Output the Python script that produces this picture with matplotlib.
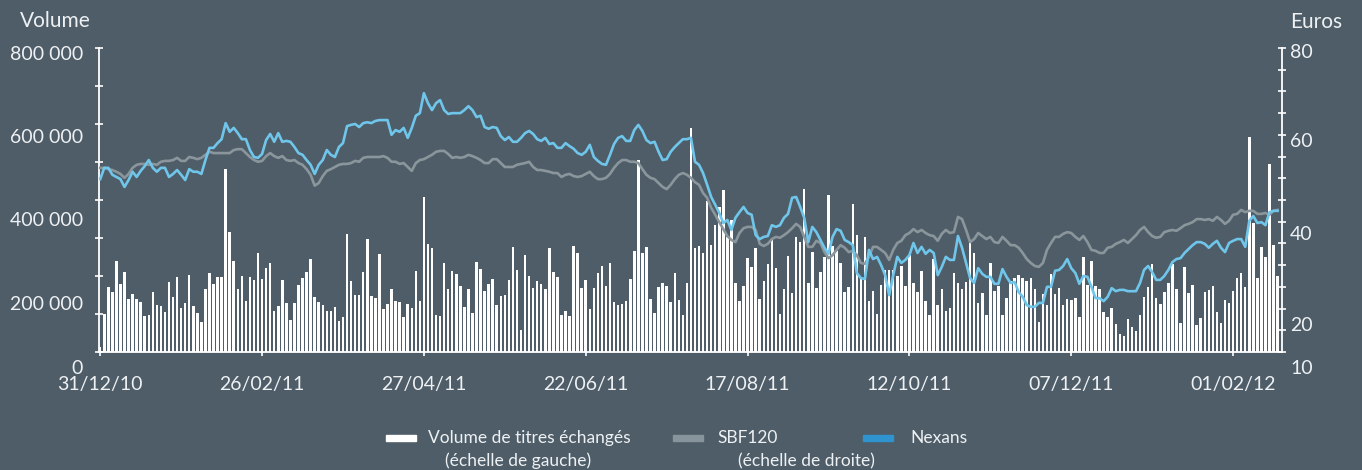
import matplotlib.pyplot as plt
import numpy as np

# volume de titres échangés (milliers), une valeur par séance
volume_k = [
    14, 100, 172, 158, 240, 179, 210, 139, 153, 139,
    132, 95, 97, 158, 124, 121, 105, 184, 145, 197,
    116, 129, 203, 121, 103, 79, 166, 208, 179, 197,
    197, 482, 316, 240, 166, 200, 134, 197, 190, 261,
    192, 221, 234, 108, 121, 190, 129, 84, 129, 176,
    195, 211, 245, 145, 132, 124, 108, 108, 118, 82,
    92, 311, 187, 150, 150, 211, 297, 147, 142, 258,
    113, 126, 166, 134, 132, 92, 126, 116, 213, 134,
    408, 284, 274, 97, 95, 234, 166, 213, 205, 174,
    118, 166, 103, 237, 218, 161, 179, 192, 124, 147,
    150, 190, 276, 216, 58, 255, 200, 168, 187, 179,
    166, 274, 211, 197, 97, 108, 95, 279, 261, 168,
    190, 113, 168, 208, 226, 174, 234, 132, 124, 126,
    134, 192, 266, 505, 261, 276, 139, 103, 171, 182,
    174, 132, 208, 137, 97, 182, 589, 274, 279, 261,
    397, 282, 334, 382, 426, 303, 347, 182, 134, 174,
    247, 224, 274, 139, 187, 232, 297, 221, 100, 166,
    253, 155, 303, 290, 429, 182, 263, 168, 211, 250,
    413, 279, 266, 234, 158, 171, 390, 308, 195, 303,
    134, 161, 100, 176, 216, 216, 216, 200, 226, 174,
    255, 182, 158, 213, 134, 97, 245, 124, 166, 108,
    116, 208, 182, 166, 184, 292, 261, 129, 155, 97,
    234, 161, 174, 97, 142, 187, 195, 203, 195, 187,
    195, 166, 79, 153, 124, 205, 153, 168, 124, 139,
    137, 142, 92, 250, 176, 240, 174, 166, 105, 92,
    116, 74, 47, 42, 87, 66, 55, 97, 145, 171,
    232, 142, 126, 158, 182, 232, 166, 76, 224, 155,
    176, 71, 89, 158, 163, 174, 105, 76, 137, 129,
    161, 195, 208, 171, 566, 340, 195, 276, 250, 495,
    282, 200,
]

# cours Nexans (euros)
nexans = [
    49.8, 52.4, 52.4, 50.8, 50.3, 49.8, 48.0, 49.6, 51.5, 50.3,
    51.7, 52.8, 54.2, 52.4, 51.5, 52.4, 52.4, 50.3, 51.0, 51.9,
    50.8, 49.6, 52.1, 51.5, 51.5, 51.0, 54.2, 57.0, 57.0, 58.1,
    59.0, 62.7, 60.7, 61.6, 60.4, 59.0, 59.0, 56.5, 54.9, 54.7,
    55.6, 58.8, 60.2, 58.4, 60.4, 58.4, 58.6, 58.4, 57.2, 55.8,
    55.4, 54.2, 53.1, 51.0, 53.1, 54.2, 56.5, 55.4, 54.9, 57.2,
    58.1, 62.0, 62.3, 62.5, 61.8, 62.7, 62.9, 62.7, 63.2, 63.4,
    63.4, 63.4, 60.0, 61.1, 60.7, 61.6, 59.3, 61.6, 64.4, 65.0,
    69.6, 67.3, 65.7, 67.3, 68.0, 65.7, 64.8, 65.0, 65.0, 65.0,
    65.7, 66.6, 65.7, 64.1, 64.4, 61.8, 61.4, 61.8, 61.6, 59.7,
    58.8, 59.5, 58.4, 58.4, 59.3, 60.4, 60.9, 60.2, 59.0, 58.6,
    59.3, 57.9, 58.1, 57.0, 57.0, 58.1, 57.4, 56.8, 55.8, 55.4,
    56.1, 57.7, 54.9, 54.0, 53.3, 53.1, 55.4, 57.9, 59.3, 59.7,
    58.6, 58.6, 61.1, 62.3, 60.9, 58.8, 58.1, 58.4, 56.1, 54.2,
    54.4, 56.1, 57.2, 58.1, 59.0, 59.0, 59.3, 53.8, 53.1, 51.2,
    48.5, 45.7, 43.9, 42.0, 39.7, 40.4, 38.1, 40.9, 42.2, 43.4,
    42.0, 41.6, 36.9, 36.0, 36.5, 36.7, 39.2, 38.8, 39.2, 40.9,
    41.8, 45.5, 45.7, 43.4, 40.9, 35.3, 38.8, 37.6, 35.8, 34.0,
    32.6, 36.5, 38.3, 37.9, 35.8, 35.3, 34.6, 28.2, 27.0, 26.8,
    33.5, 31.4, 31.9, 30.0, 27.7, 23.1, 27.7, 31.9, 30.5, 31.2,
    32.3, 35.1, 32.8, 34.2, 32.6, 33.5, 32.8, 27.7, 29.6, 31.9,
    31.2, 31.2, 36.7, 34.0, 30.5, 27.0, 25.9, 29.3, 28.0, 27.3,
    27.3, 25.7, 25.7, 29.1, 27.3, 25.9, 26.1, 23.8, 22.7, 20.8,
    20.4, 20.4, 21.3, 21.3, 25.0, 25.0, 28.7, 28.9, 29.8, 31.4,
    29.3, 28.2, 25.7, 27.5, 27.3, 25.0, 22.4, 22.4, 21.7, 22.7,
    24.7, 24.0, 24.3, 24.3, 24.0, 24.0, 24.0, 25.9, 28.9, 29.8,
    28.4, 26.6, 26.6, 27.5, 28.9, 30.7, 31.4, 31.6, 32.8, 33.7,
    34.6, 35.3, 35.3, 34.9, 34.0, 34.9, 35.6, 34.0, 33.0, 35.1,
    35.6, 36.0, 36.0, 34.2, 40.2, 41.3, 39.7, 39.9, 39.2, 42.2,
    42.5, 42.5,
]

# SBF120 rebasé (échelle de droite)
sbf120 = [
    52.4, 52.4, 52.1, 51.9, 51.5, 51.0, 50.1, 51.0, 52.4, 53.1,
    53.3, 53.3, 53.1, 53.3, 53.1, 53.8, 54.0, 54.0, 54.2, 54.7,
    54.0, 54.0, 54.9, 54.7, 54.4, 54.7, 55.4, 56.1, 55.8, 55.8,
    55.8, 55.8, 55.8, 56.5, 56.7, 56.7, 55.8, 54.9, 54.2, 53.8,
    54.0, 55.1, 55.8, 55.1, 54.7, 55.1, 54.2, 54.0, 54.2, 53.5,
    53.1, 52.1, 50.8, 48.3, 48.9, 50.5, 51.7, 52.1, 52.6, 53.1,
    53.3, 53.3, 53.5, 54.0, 53.8, 54.7, 54.9, 54.9, 54.9, 54.9,
    55.1, 54.7, 53.8, 53.8, 53.3, 53.5, 52.6, 51.7, 53.5, 54.2,
    54.4, 54.9, 55.4, 56.1, 56.3, 56.3, 55.6, 54.7, 54.9, 54.7,
    54.9, 55.4, 55.1, 54.7, 54.2, 53.5, 53.5, 54.4, 54.4, 53.5,
    52.6, 52.6, 52.6, 53.1, 53.3, 53.5, 53.8, 52.6, 51.9, 51.9,
    51.7, 51.5, 51.2, 51.2, 50.3, 50.8, 51.0, 50.5, 50.3, 50.5,
    51.0, 51.5, 50.5, 49.8, 49.8, 50.1, 51.0, 52.4, 53.5, 54.2,
    54.2, 53.8, 53.8, 53.5, 52.1, 50.8, 50.1, 49.8, 48.9, 48.0,
    47.5, 48.5, 49.8, 50.8, 51.2, 50.8, 50.1, 49.1, 48.5, 46.6,
    45.5, 43.2, 41.6, 39.9, 38.3, 36.7, 35.8, 35.3, 37.4, 38.5,
    38.8, 38.8, 38.1, 34.9, 34.4, 34.9, 36.0, 36.5, 36.3, 36.9,
    37.6, 38.5, 39.5, 38.8, 36.5, 34.2, 34.2, 35.6, 35.1, 33.0,
    31.6, 32.3, 33.5, 34.6, 34.0, 33.0, 33.3, 32.3, 30.5, 30.3,
    31.9, 34.2, 34.2, 33.5, 32.8, 31.2, 33.5, 35.1, 35.6, 36.9,
    37.4, 38.3, 37.6, 38.1, 37.4, 36.9, 36.7, 35.6, 37.2, 38.1,
    37.4, 37.6, 41.1, 40.6, 38.1, 35.3, 36.0, 37.4, 36.7, 36.0,
    36.5, 35.3, 35.1, 36.5, 35.6, 34.6, 34.6, 34.0, 32.8, 31.4,
    30.5, 29.8, 29.6, 30.5, 33.5, 35.1, 36.5, 36.5, 37.2, 37.6,
    37.4, 36.5, 35.8, 36.7, 35.3, 33.5, 33.3, 32.8, 32.8, 34.0,
    34.2, 34.9, 35.3, 35.8, 35.1, 36.0, 36.9, 38.1, 38.8, 37.6,
    36.7, 36.3, 36.5, 37.6, 37.9, 38.1, 37.9, 38.5, 39.2, 39.5,
    39.9, 40.6, 40.6, 40.4, 40.6, 40.2, 41.1, 40.4, 39.5, 40.2,
    41.6, 41.8, 42.7, 42.2, 42.5, 42.5, 41.8, 41.8, 42.0, 41.6,
    42.5, 42.7,
]

date_labels = ['31/12/10', '26/02/11', '27/04/11', '22/06/11',
               '17/08/11', '12/10/11', '07/12/11', '01/02/12']
left_labels = ['800 000', '600 000', '400 000', '200 000', '0']
right_labels = ['80', '60', '40', '20', '10']

bg = '#4e5d68'
txt = '#eef1f3'
plt.rcParams['font.family'] = ['Lato', 'DejaVu Sans']

fig = plt.figure(figsize=(13.62, 4.70), dpi=100, facecolor=bg)
ax = fig.add_axes([0.0727, 0.2511, 0.8686, 0.6468])
ax.set_facecolor(bg)

x = np.arange(len(volume_k))
ax.bar(x, np.array(volume_k) * 1000, width=0.62, color='white', zorder=2)
ax.set_xlim(-0.3, 292.1)
ax.set_ylim(0, 800000)

ax2 = ax.twinx()
ax2.plot(x, sbf120, color='#8a969c', lw=1.9, solid_joinstyle='round')
ax2.plot(x, nexans, color='#6fc6ea', lw=1.9, solid_joinstyle='round')
ax2.set_ylim(10, 80)

for a in (ax, ax2):
    for s in a.spines.values():
        s.set_visible(False)
ax.spines['left'].set_visible(True)
ax.spines['bottom'].set_visible(True)
ax2.spines['right'].set_visible(True)
for s in (ax.spines['left'], ax.spines['bottom'], ax2.spines['right']):
    s.set_color('white')
    s.set_linewidth(1.3)

ax.set_yticks(np.arange(0, 800001, 100000))
ax.set_yticklabels([])
ax.tick_params(axis='y', direction='inout', length=6, width=1.2, color='white')
ax2.set_yticks(np.arange(10, 81, 5))
ax2.set_yticklabels([])
ax2.tick_params(axis='y', direction='inout', length=6, width=1.2, color='white')

ax.set_xticks(np.arange(0, 292, 40))
ax.set_xticklabels(date_labels, fontsize=14, color=txt)
ax.tick_params(axis='x', direction='out', length=3, width=1.2, color='white', pad=14)

# étiquettes des axes verticaux
left_pos = [0.977, 0.704, 0.431, 0.155, -0.053]
right_pos = [0.984, 0.691, 0.388, 0.086, -0.053]
for lab, yp in zip(left_labels, left_pos):
    ax.text(-0.0135, yp, lab, transform=ax.transAxes, ha='right', va='center',
            fontsize=14, color=txt)
for lab, yp in zip(right_labels, right_pos):
    ax.text(1.0068, yp, lab, transform=ax.transAxes, ha='left', va='center',
            fontsize=14, color=txt)

fig.text(55 / 1362, 1 - 21 / 470, 'Volume', ha='center', va='center', fontsize=15, color=txt)
fig.text(1316 / 1362, 1 - 22 / 470, 'Euros', ha='center', va='center', fontsize=15, color=txt)

# légende
swatches = [(386, 'white'), (673, '#87949b'), (863, '#2f93d0')]
for sx, col in swatches:
    fig.patches.append(plt.Rectangle((sx / 1362, 1 - 441 / 470), 30 / 1362, 6 / 470,
                                     transform=fig.transFigure, color=col))
row1 = 1 - 438 / 470
row2 = 1 - 461 / 470
fig.text(428 / 1362, row1, 'Volume de titres échangés', va='center', fontsize=12.5, color=txt)
fig.text(445 / 1362, row2, '(échelle de gauche)', va='center', fontsize=12.5, color=txt)
fig.text(717 / 1362, row1, 'SBF120', va='center', fontsize=12.5, color=txt)
fig.text(738 / 1362, row2, '(échelle de droite)', va='center', fontsize=12.5, color=txt)
fig.text(910 / 1362, row1, 'Nexans', va='center', fontsize=12.5, color=txt)

fig.savefig('out.png', dpi=100, facecolor=bg)
